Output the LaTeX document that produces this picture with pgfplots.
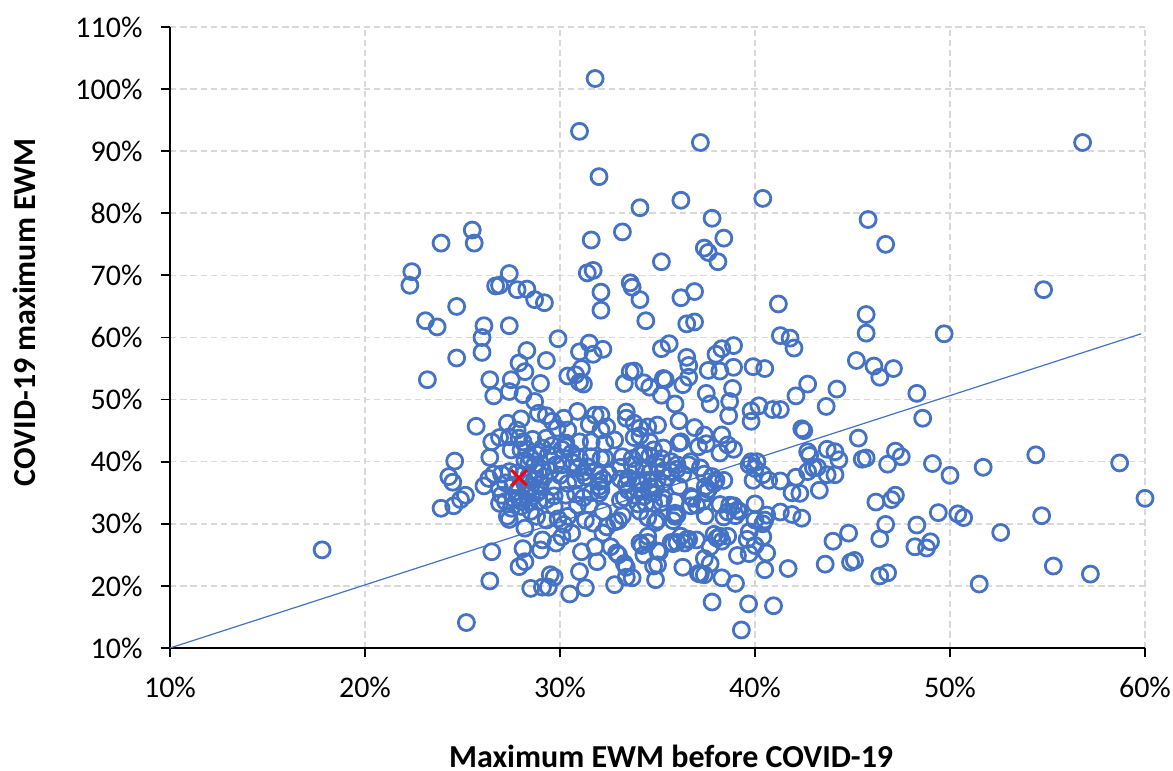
\documentclass[border=0pt]{standalone}
\usepackage{pgfplots}
\pgfplotsset{compat=1.18}
\usepackage{fontspec}
\setmainfont{Carlito}
\definecolor{ptblue}{HTML}{4472C4}
\definecolor{gridgray}{HTML}{D9D9D9}
\begin{document}
\begin{tikzpicture}
\useasboundingbox (0,0) rectangle (586.5pt,385.5pt);
\begin{axis}[at={(85pt,61.5pt)},anchor=south west,
  scale only axis,width=487.5pt,height=310.5pt,
  xmin=10,xmax=60,ymin=10,ymax=110,
  xtick={10,20,30,40,50,60},ytick={10,20,...,110},
  xticklabels={10\%,20\%,30\%,40\%,50\%,60\%},
  yticklabels={10\%,20\%,30\%,40\%,50\%,60\%,70\%,80\%,90\%,100\%,110\%},
  axis lines=left,axis line style={-,black,line width=1pt},
  tick style={black,line width=.9pt},tick align=outside,major tick length=4.7pt,
  tick label style={font=\fontsize{15}{17}\selectfont},
  xticklabel style={yshift=-6.5pt},yticklabel style={xshift=-5.5pt},
  grid=major,grid style={gridgray,line width=.8pt,dash pattern=on 3.2pt off 1.9pt},
  xlabel={\textbf{Maximum EWM before COVID-19}},
  ylabel={\textbf{COVID-19 maximum EWM}},
  label style={font=\fontsize{16}{18}\selectfont},
  xlabel style={at={(axis description cs:0.514,-0.174)},anchor=center},
  ylabel style={at={(axis description cs:-0.1497,0.541)},anchor=center},
  clip=false]
\addplot[ptblue,line width=.6pt] coordinates {(10,10) (59.8,60.6)};
\addplot[only marks,mark=o,mark size=4pt,mark options={ptblue,line width=1.4pt,fill=none}] table {
31.8 101.7
31.0 93.2
37.2 91.4
56.8 91.4
32.0 85.9
34.1 80.9
36.2 82.1
40.4 82.4
45.8 79.0
37.8 79.2
46.7 75.0
38.4 76.0
31.6 75.7
33.2 77.0
25.5 77.3
25.6 75.2
23.9 75.2
37.4 74.4
37.6 73.7
38.1 72.2
35.2 72.2
22.4 70.6
22.3 68.4
27.4 70.3
31.7 70.8
31.4 70.4
33.6 68.8
33.7 68.1
26.7 68.3
26.9 68.4
27.8 67.7
28.3 67.8
28.7 66.1
29.2 65.6
32.1 67.3
34.1 66.1
36.2 66.4
36.9 67.4
41.2 65.4
54.8 67.7
24.7 65.0
32.1 64.4
23.1 62.7
23.7 61.7
26.1 61.9
27.4 61.9
34.4 62.7
36.5 62.2
36.9 62.5
45.7 63.7
45.7 60.7
49.7 60.6
41.3 60.3
41.8 59.9
26.0 60.0
29.9 59.8
31.5 59.1
26.0 57.6
28.3 57.9
32.2 58.1
35.2 58.2
35.6 59.0
38.3 58.2
38.9 58.7
42.0 58.3
31.0 57.7
31.7 57.3
38.0 57.3
24.7 56.7
29.3 56.3
36.5 56.8
45.2 56.3
27.9 55.9
36.6 55.5
39.9 55.3
40.5 55.0
46.1 55.4
47.1 55.0
38.9 55.2
37.6 54.7
38.2 54.6
28.2 54.5
33.6 54.5
33.8 54.6
31.1 55.0
30.4 53.8
30.8 54.0
23.2 53.2
26.4 53.2
27.5 53.2
35.3 53.4
35.4 53.2
46.4 53.6
36.6 53.6
36.3 52.4
33.3 52.6
34.3 52.7
34.6 52.0
29.0 52.6
31.2 52.5
31.0 52.8
42.7 52.5
44.2 51.7
38.85 51.8
26.6 50.6
28.1 50.8
27.4 51.3
35.2 50.7
37.5 51.0
42.1 50.6
48.3 51.0
28.7 49.7
35.9 49.3
37.7 49.3
38.7 49.7
40.2 49.0
43.65 48.9
30.9 48.1
39.8 48.2
40.9 48.4
41.3 48.4
33.4 48.0
31.8 47.5
32.1 47.5
28.9 47.8
29.3 47.4
29.6 46.5
28.0 46.9
33.4 47.0
30.2 47.0
33.8 46.2
36.1 46.6
38.65 47.4
39.8 46.5
48.6 47.0
25.7 45.7
27.3 46.2
27.8 45.1
29.85 45.4
31.5 46.0
32.4 45.6
32.1 45.1
34.1 45.4
34.5 45.6
35.0 45.9
36.9 45.5
42.4 45.3
42.5 45.0
45.3 43.8
30.4 45.1
37.4 44.3
38.3 44.3
33.8 43.9
34.1 44.2
27.9 43.8
26.5 43.2
26.9 43.9
27.4 44.0
28.1 43.2
28.6 43.6
29.3 43.8
30.3 43.0
30.3 42.4
31.0 43.2
31.6 43.2
32.3 43.0
32.8 43.5
36.1 43.0
36.2 43.2
34.6 43.2
37.1 42.4
37.5 42.9
38.6 42.7
38.9 42.0
38.2 41.4
27.5 41.9
28.0 41.9
29.4 41.1
30.1 39.5
26.4 40.7
24.6 40.1
28.4 39.7
28.7 39.5
29.1 38.7
31.6 40.8
32.1 40.5
32.3 40.6
33.2 40.8
33.1 39.1
33.7 40.5
34.1 41.1
34.8 41.9
35.3 42.2
35.2 40.5
35.7 40.0
36.0 39.5
36.7 40.0
36.6 39.5
37.2 39.0
37.4 38.0
37.8 37.6
37.9 36.5
37.45 36.0
38.0 37.0
38.4 37.0
37.6 35.5
36.8 34.1
37.3 33.6
37.45 31.3
38.2 33.1
36.7 34.4
35.9 31.7
35.9 31.2
35.3 34.1
34.8 34.9
34.3 34.4
34.1 36.5
34.5 37.0
34.0 37.0
34.6 36.0
33.5 35.4
33.1 33.8
34.1 32.0
35.0 30.6
34.5 28.0
34.1 26.9
35.1 25.5
35.0 23.4
36.3 23.0
36.4 26.9
36.6 27.5
35.7 27.0
37.7 26.3
38.2 28.0
33.3 23.6
32.9 25.3
32.6 26.3
31.8 26.3
31.9 23.9
31.0 22.3
31.1 25.5
29.5 21.8
26.5 25.5
27.9 23.1
28.1 26.0
29.1 27.4
29.0 25.8
29.8 26.9
30.1 27.9
30.6 28.5
28.2 29.3
27.3 31.2
27.4 30.7
26.9 33.3
26.9 35.7
27.0 34.6
27.2 33.6
27.6 34.1
27.9 34.1
28.3 34.6
28.8 34.9
29.6 36.0
29.3 30.6
28.8 31.2
28.5 32.0
28.0 32.8
29.7 32.8
30.3 34.6
30.4 31.2
30.9 33.0
31.3 30.6
31.7 30.1
32.2 28.5
32.4 29.5
32.8 30.3
32.2 32.0
31.5 33.0
32.0 34.9
32.0 36.0
32.0 36.8
32.0 37.9
31.3 37.6
30.8 37.0
24.3 37.6
24.5 36.7
23.9 32.5
25.15 34.6
24.9 33.9
24.55 32.9
26.1 36.1
26.35 37.3
26.6 38.0
27.0 38.0
27.4 38.4
27.8 38.2
28.1 37.9
28.4 37.6
28.7 37.2
28.2 36.5
27.6 36.2
27.2 36.6
28.5 36.0
29.0 36.5
29.2 37.6
28.9 38.2
29.5 38.5
29.8 39.5
28.2 40.2
28.5 40.6
28.8 41.2
29.1 42.2
29.6 42.6
28.3 42.0
30.4 36.5
30.0 37.8
30.9 38.9
31.4 39.2
31.8 38.5
32.2 37.2
32.5 38.0
32.1 35.5
31.6 35.0
31.2 34.2
30.8 34.8
33.5 37.4
33.9 38.6
34.3 39.0
34.6 38.2
35.0 39.2
35.3 38.5
35.7 38.4
36.0 38.8
36.3 38.0
35.5 37.5
35.0 37.2
35.3 36.5
34.9 35.8
34.2 35.3
33.8 34.6
33.3 34.2
35.9 33.6
37.0 33.0
36.1 36.0
36.7 32.9
36.0 31.4
35.8 30.5
34.9 30.2
34.5 31.0
33.2 31.3
33.0 30.5
29.9 30.8
30.2 29.9
28.9 33.6
29.3 33.9
28.4 33.5
28.0 33.6
27.5 32.5
29.7 34.5
29.0 35.4
28.3 35.5
27.8 35.2
30.1 42.0
30.6 41.4
29.7 41.0
31.0 40.5
31.2 38.3
30.7 39.8
33.1 37.2
33.4 36.3
34.3 41.3
34.6 40.9
33.7 39.5
34.8 33.3
35.2 33.4
34.4 33.3
34.0 33.2
36.2 28.0
36.5 27.5
37.0 27.4
36.0 27.0
35.8 26.8
38.6 28.0
38.05 27.7
38.3 27.2
37.9 28.3
37.4 24.4
37.7 23.6
37.4 21.8
37.2 21.9
37.1 22.0
38.3 21.3
39.6 27.5
39.7 28.7
39.7 25.2
40.4 27.9
40.0 26.5
40.0 33.2
40.0 30.6
40.5 30.6
40.6 31.4
40.4 30.0
39.0 31.3
38.7 33.0
38.9 32.9
39.2 32.0
38.4 31.1
39.1 32.2
38.6 31.9
37.5 35.0
39.9 37.0
40.4 37.9
39.7 39.5
39.8 40.0
40.1 40.0
40.0 38.9
40.7 37.0
41.3 36.9
42.1 37.5
41.9 35.0
42.3 34.9
43.0 39.0
42.7 38.4
43.2 39.1
42.7 41.6
42.8 41.0
43.7 42.0
44.1 41.6
44.3 40.3
43.7 37.9
44.1 37.9
43.3 35.4
58.7 39.8
60.0 34.1
54.4 41.1
54.7 31.3
55.3 23.2
57.2 21.9
51.5 20.3
52.6 28.6
51.7 39.1
50.0 37.8
50.4 31.6
50.7 31.0
49.4 31.8
49.1 39.7
48.3 29.8
48.2 26.3
48.8 26.1
49.0 27.1
47.5 40.8
47.2 41.7
46.8 39.6
47.2 34.6
47.0 33.9
46.7 29.9
46.2 33.5
46.4 27.6
46.4 21.6
46.8 22.1
45.7 40.6
45.5 40.4
44.8 28.5
44.9 23.8
45.1 24.1
43.6 23.5
44.0 27.2
42.4 30.9
41.9 31.5
41.3 31.9
41.7 22.8
40.95 16.8
40.5 22.6
40.6 25.3
39.67 17.1
39.0 20.4
39.1 24.9
37.8 17.4
39.3 12.9
25.2 14.1
17.8 25.8
26.4 20.8
28.2 23.9
28.5 19.6
29.1 19.8
29.4 19.8
29.7 21.4
30.5 18.7
31.3 19.7
33.4 21.4
33.4 23.0
33.0 25.0
32.8 20.2
33.7 21.3
34.9 21.0
34.8 23.2
35.0 25.6
34.3 25.0
34.2 26.5
34.5 27.0
};
\addplot[only marks,mark=x,mark size=5.5pt,mark options={red,line width=1.5pt}] coordinates {(27.9,37.4)};
\end{axis}
\end{tikzpicture}
\end{document}
